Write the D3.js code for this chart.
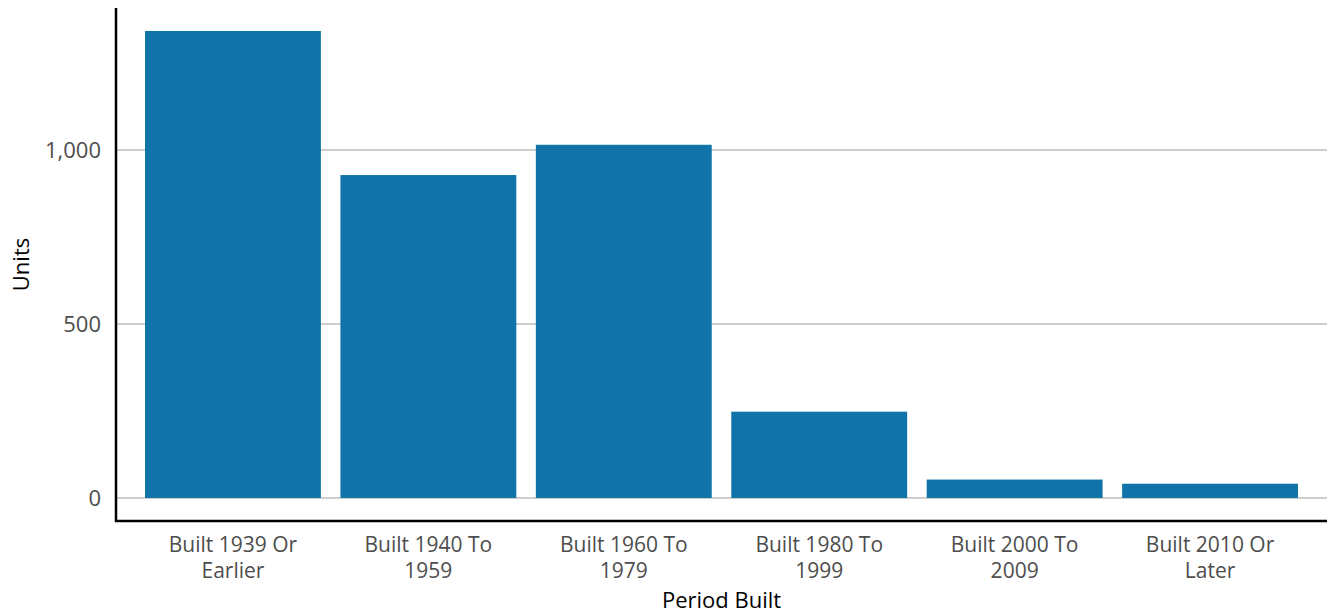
<!DOCTYPE html>
<html>
<head>
<meta charset="utf-8">
<script src="https://cdn.jsdelivr.net/npm/d3@7"></script>
<style>
  body { margin: 0; background: #fff; }
  text { font-family: "Open Sans", "DejaVu Sans", sans-serif; }
</style>
</head>
<body>
<div class="chart"></div>
<script>
var width = 1335,
    height = 613;

// data
var periods = ["Built 1939 Or Earlier", "Built 1940 To 1959", "Built 1960 To 1979",
               "Built 1980 To 1999", "Built 2000 To 2009", "Built 2010 Or Later"];
var labelLines = [["Built 1939 Or", "Earlier"], ["Built 1940 To", "1959"], ["Built 1960 To", "1979"],
                  ["Built 1980 To", "1999"], ["Built 2000 To", "2009"], ["Built 2010 Or", "Later"]];
var units = [1342, 928, 1015, 248, 53, 41];
var yTicks = [0, 500, 1000];

var plotLeft = 116, plotRight = 1327, plotTop = 8, zeroY = 498, axisY = 521;

var svg = d3.select(".chart").append("svg")
    .attr("width", width)
    .attr("height", height);

var x = d3.scaleBand()
    .domain(periods)
    .range([145, 1298])
    .paddingInner(0.1)
    .paddingOuter(0);

var y = d3.scaleLinear()
    .domain([0, 1408])
    .range([zeroY, plotTop]);

// gridlines
svg.append("g")
    .selectAll("line")
    .data(yTicks)
    .enter().append("line")
    .attr("x1", plotLeft).attr("x2", plotRight)
    .attr("y1", d => y(d)).attr("y2", d => y(d))
    .attr("stroke", "#9e9e9e")
    .attr("stroke-width", 1.2);

// bars
svg.append("g")
    .selectAll("rect")
    .data(units)
    .enter().append("rect")
    .attr("x", (d, i) => x(periods[i]))
    .attr("width", x.bandwidth())
    .attr("y", d => y(d))
    .attr("height", d => y(0) - y(d))
    .attr("fill", "#1174a8");

// y axis
var yAxis = d3.axisLeft(y)
    .tickValues(yTicks)
    .tickSize(0)
    .tickPadding(15)
    .tickFormat(d3.format(","));
var gy = svg.append("g")
    .attr("transform", "translate(" + plotLeft + ",0)")
    .call(yAxis);
gy.select(".domain").remove();
gy.selectAll("text")
    .attr("font-size", 22)
    .attr("fill", "#4d4d4d")
    .style("font-family", "'Open Sans', sans-serif");

// x axis labels, one text per line
var lab = svg.append("g").selectAll("g")
    .data(periods)
    .enter().append("g")
    .attr("transform", d => "translate(" + (x(d) + x.bandwidth() / 2) + ",0)");
lab.selectAll("text")
    .data((d, i) => labelLines[i])
    .enter().append("text")
    .attr("y", (d, j) => 552 + j * 26)
    .attr("text-anchor", "middle")
    .attr("font-size", 21)
    .attr("fill", "#4d4d4d")
    .text(d => d);

// axis lines
svg.append("line")
    .attr("x1", plotLeft).attr("x2", plotLeft)
    .attr("y1", plotTop).attr("y2", axisY + 1)
    .attr("stroke", "#000").attr("stroke-width", 2.5);
svg.append("line")
    .attr("x1", plotLeft - 1).attr("x2", plotRight)
    .attr("y1", axisY).attr("y2", axisY)
    .attr("stroke", "#000").attr("stroke-width", 2.5);

// axis titles
svg.append("text")
    .attr("x", (plotLeft + plotRight) / 2)
    .attr("y", 608)
    .attr("text-anchor", "middle")
    .attr("font-size", 22)
    .attr("fill", "#000")
    .text("Period Built");

svg.append("text")
    .attr("transform", "translate(29," + ((plotTop + axisY) / 2) + ") rotate(-90)")
    .attr("text-anchor", "middle")
    .attr("font-size", 22)
    .attr("fill", "#000")
    .text("Units");
</script>
</body>
</html>
